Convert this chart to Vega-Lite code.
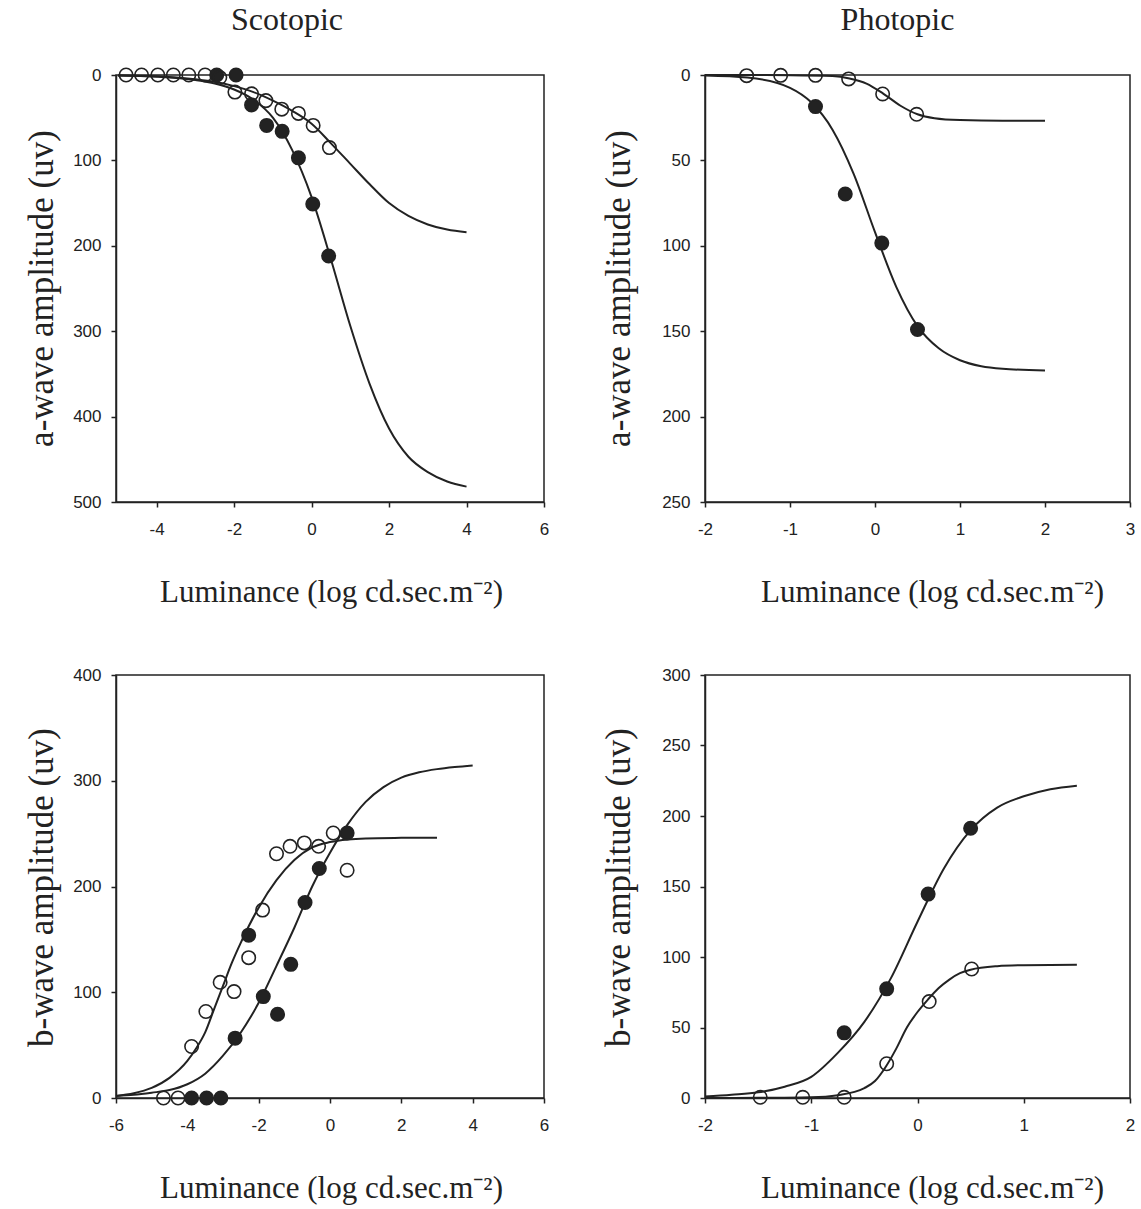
{
  "$schema": "https://vega.github.io/schema/vega-lite/v6.json",
  "padding": {"left": 23, "top": 3, "right": 5, "bottom": 5},
  "background": "white",
  "datasets": {
    "points": [
      {"p": "as", "k": "o", "x": -4.79, "y": 0},
      {"p": "as", "k": "o", "x": -4.39, "y": 0},
      {"p": "as", "k": "o", "x": -3.97, "y": 0},
      {"p": "as", "k": "o", "x": -3.57, "y": 0},
      {"p": "as", "k": "o", "x": -3.17, "y": 0},
      {"p": "as", "k": "o", "x": -2.75, "y": 0},
      {"p": "as", "k": "f", "x": -2.45, "y": 0},
      {"p": "as", "k": "o", "x": -2.37, "y": 3},
      {"p": "as", "k": "f", "x": -1.95, "y": 0},
      {"p": "as", "k": "o", "x": -1.98, "y": 20},
      {"p": "as", "k": "o", "x": -1.55, "y": 22},
      {"p": "as", "k": "o", "x": -1.18, "y": 30},
      {"p": "as", "k": "o", "x": -0.77, "y": 40},
      {"p": "as", "k": "o", "x": -0.34, "y": 45},
      {"p": "as", "k": "o", "x": 0.04, "y": 59},
      {"p": "as", "k": "o", "x": 0.46, "y": 85},
      {"p": "as", "k": "f", "x": -1.55, "y": 35},
      {"p": "as", "k": "f", "x": -1.16, "y": 59},
      {"p": "as", "k": "f", "x": -0.76, "y": 66},
      {"p": "as", "k": "f", "x": -0.34, "y": 97},
      {"p": "as", "k": "f", "x": 0.03, "y": 151},
      {"p": "as", "k": "f", "x": 0.44, "y": 212},

      {"p": "ap", "k": "o", "x": -1.51, "y": 0.4},
      {"p": "ap", "k": "o", "x": -1.11, "y": 0.2},
      {"p": "ap", "k": "o", "x": -0.70, "y": 0.2},
      {"p": "ap", "k": "o", "x": -0.31, "y": 2.3},
      {"p": "ap", "k": "o", "x": 0.09, "y": 11.1},
      {"p": "ap", "k": "o", "x": 0.49, "y": 23},
      {"p": "ap", "k": "f", "x": -0.70, "y": 18.5},
      {"p": "ap", "k": "f", "x": -0.35, "y": 69.7},
      {"p": "ap", "k": "f", "x": 0.08, "y": 98.4},
      {"p": "ap", "k": "f", "x": 0.50, "y": 149},

      {"p": "bs", "k": "o", "x": -4.67, "y": 0},
      {"p": "bs", "k": "o", "x": -4.26, "y": 0},
      {"p": "bs", "k": "o", "x": -3.88, "y": 48.7},
      {"p": "bs", "k": "o", "x": -3.48, "y": 81.8},
      {"p": "bs", "k": "o", "x": -3.08, "y": 109.4},
      {"p": "bs", "k": "o", "x": -2.69, "y": 100.6},
      {"p": "bs", "k": "o", "x": -2.28, "y": 132.7},
      {"p": "bs", "k": "o", "x": -1.89, "y": 177.7},
      {"p": "bs", "k": "o", "x": -1.50, "y": 231},
      {"p": "bs", "k": "o", "x": -1.12, "y": 238},
      {"p": "bs", "k": "o", "x": -0.72, "y": 241.2},
      {"p": "bs", "k": "o", "x": -0.32, "y": 238},
      {"p": "bs", "k": "o", "x": 0.09, "y": 250.6},
      {"p": "bs", "k": "o", "x": 0.48, "y": 215.4},
      {"p": "bs", "k": "f", "x": -3.88, "y": 0},
      {"p": "bs", "k": "f", "x": -3.46, "y": 0},
      {"p": "bs", "k": "f", "x": -3.06, "y": 0},
      {"p": "bs", "k": "f", "x": -2.66, "y": 56.6},
      {"p": "bs", "k": "f", "x": -2.28, "y": 154},
      {"p": "bs", "k": "f", "x": -1.87, "y": 95.9},
      {"p": "bs", "k": "f", "x": -1.47, "y": 79.2},
      {"p": "bs", "k": "f", "x": -1.10, "y": 126.4},
      {"p": "bs", "k": "f", "x": -0.70, "y": 184.9},
      {"p": "bs", "k": "f", "x": -0.30, "y": 217},
      {"p": "bs", "k": "f", "x": 0.48, "y": 250.6},

      {"p": "bp", "k": "o", "x": -1.48, "y": 0.5},
      {"p": "bp", "k": "o", "x": -1.08, "y": 0.5},
      {"p": "bp", "k": "o", "x": -0.69, "y": 0.5},
      {"p": "bp", "k": "o", "x": -0.29, "y": 24.3},
      {"p": "bp", "k": "o", "x": 0.11, "y": 68.4},
      {"p": "bp", "k": "o", "x": 0.51, "y": 91.5},
      {"p": "bp", "k": "f", "x": -0.69, "y": 46.2},
      {"p": "bp", "k": "f", "x": -0.29, "y": 77.4},
      {"p": "bp", "k": "f", "x": 0.10, "y": 144.6},
      {"p": "bp", "k": "f", "x": 0.50, "y": 191.3}
    ],
    "curves": [
      {"p": "as", "k": "o", "x": -5, "y": 0.5},
      {"p": "as", "k": "o", "x": -4, "y": 1.5},
      {"p": "as", "k": "o", "x": -3, "y": 5},
      {"p": "as", "k": "o", "x": -2.5, "y": 8},
      {"p": "as", "k": "o", "x": -2, "y": 13},
      {"p": "as", "k": "o", "x": -1.5, "y": 20},
      {"p": "as", "k": "o", "x": -1, "y": 30},
      {"p": "as", "k": "o", "x": -0.5, "y": 42},
      {"p": "as", "k": "o", "x": 0, "y": 57},
      {"p": "as", "k": "o", "x": 0.5, "y": 80},
      {"p": "as", "k": "o", "x": 1, "y": 104},
      {"p": "as", "k": "o", "x": 1.5, "y": 128},
      {"p": "as", "k": "o", "x": 2, "y": 150},
      {"p": "as", "k": "o", "x": 2.5, "y": 165},
      {"p": "as", "k": "o", "x": 3, "y": 175},
      {"p": "as", "k": "o", "x": 3.5, "y": 181},
      {"p": "as", "k": "o", "x": 4, "y": 184},
      {"p": "as", "k": "f", "x": -5, "y": 0.5},
      {"p": "as", "k": "f", "x": -4, "y": 2},
      {"p": "as", "k": "f", "x": -3, "y": 6},
      {"p": "as", "k": "f", "x": -2.5, "y": 10},
      {"p": "as", "k": "f", "x": -2, "y": 17},
      {"p": "as", "k": "f", "x": -1.5, "y": 29},
      {"p": "as", "k": "f", "x": -1, "y": 50},
      {"p": "as", "k": "f", "x": -0.5, "y": 88},
      {"p": "as", "k": "f", "x": 0, "y": 143},
      {"p": "as", "k": "f", "x": 0.5, "y": 216},
      {"p": "as", "k": "f", "x": 1, "y": 294},
      {"p": "as", "k": "f", "x": 1.5, "y": 362},
      {"p": "as", "k": "f", "x": 2, "y": 414},
      {"p": "as", "k": "f", "x": 2.5, "y": 447},
      {"p": "as", "k": "f", "x": 3, "y": 465},
      {"p": "as", "k": "f", "x": 3.5, "y": 476},
      {"p": "as", "k": "f", "x": 4, "y": 482},

      {"p": "ap", "k": "o", "x": -2, "y": 0},
      {"p": "ap", "k": "o", "x": -1.5, "y": 0},
      {"p": "ap", "k": "o", "x": -1, "y": 0.1},
      {"p": "ap", "k": "o", "x": -0.5, "y": 0.6},
      {"p": "ap", "k": "o", "x": -0.3, "y": 2},
      {"p": "ap", "k": "o", "x": -0.1, "y": 5},
      {"p": "ap", "k": "o", "x": 0.1, "y": 11},
      {"p": "ap", "k": "o", "x": 0.3, "y": 18},
      {"p": "ap", "k": "o", "x": 0.5, "y": 23},
      {"p": "ap", "k": "o", "x": 0.7, "y": 25.3},
      {"p": "ap", "k": "o", "x": 1, "y": 26.4},
      {"p": "ap", "k": "o", "x": 1.5, "y": 26.8},
      {"p": "ap", "k": "o", "x": 2, "y": 26.8},
      {"p": "ap", "k": "f", "x": -2, "y": 0.3},
      {"p": "ap", "k": "f", "x": -1.5, "y": 1.5},
      {"p": "ap", "k": "f", "x": -1, "y": 7.5},
      {"p": "ap", "k": "f", "x": -0.75, "y": 16},
      {"p": "ap", "k": "f", "x": -0.5, "y": 32},
      {"p": "ap", "k": "f", "x": -0.25, "y": 58},
      {"p": "ap", "k": "f", "x": 0, "y": 92},
      {"p": "ap", "k": "f", "x": 0.25, "y": 124},
      {"p": "ap", "k": "f", "x": 0.5, "y": 147},
      {"p": "ap", "k": "f", "x": 0.75, "y": 160},
      {"p": "ap", "k": "f", "x": 1, "y": 167},
      {"p": "ap", "k": "f", "x": 1.25, "y": 170.5},
      {"p": "ap", "k": "f", "x": 1.5, "y": 172},
      {"p": "ap", "k": "f", "x": 2, "y": 173},

      {"p": "bs", "k": "o", "x": -6, "y": 2},
      {"p": "bs", "k": "o", "x": -5.5, "y": 4.5},
      {"p": "bs", "k": "o", "x": -5, "y": 9.5},
      {"p": "bs", "k": "o", "x": -4.5, "y": 19},
      {"p": "bs", "k": "o", "x": -4, "y": 35},
      {"p": "bs", "k": "o", "x": -3.75, "y": 47},
      {"p": "bs", "k": "o", "x": -3.5, "y": 62},
      {"p": "bs", "k": "o", "x": -3.25, "y": 84},
      {"p": "bs", "k": "o", "x": -3, "y": 106},
      {"p": "bs", "k": "o", "x": -2.75, "y": 128},
      {"p": "bs", "k": "o", "x": -2.5, "y": 147},
      {"p": "bs", "k": "o", "x": -2, "y": 180},
      {"p": "bs", "k": "o", "x": -1.5, "y": 206},
      {"p": "bs", "k": "o", "x": -1, "y": 225},
      {"p": "bs", "k": "o", "x": -0.5, "y": 237},
      {"p": "bs", "k": "o", "x": 0, "y": 242},
      {"p": "bs", "k": "o", "x": 0.5, "y": 244.5},
      {"p": "bs", "k": "o", "x": 1, "y": 245.5},
      {"p": "bs", "k": "o", "x": 2, "y": 246},
      {"p": "bs", "k": "o", "x": 3, "y": 246.2},
      {"p": "bs", "k": "f", "x": -6, "y": 2},
      {"p": "bs", "k": "f", "x": -5.5, "y": 3},
      {"p": "bs", "k": "f", "x": -5, "y": 5},
      {"p": "bs", "k": "f", "x": -4.5, "y": 7.5},
      {"p": "bs", "k": "f", "x": -4, "y": 13},
      {"p": "bs", "k": "f", "x": -3.5, "y": 23},
      {"p": "bs", "k": "f", "x": -3, "y": 40},
      {"p": "bs", "k": "f", "x": -2.5, "y": 62},
      {"p": "bs", "k": "f", "x": -2, "y": 90},
      {"p": "bs", "k": "f", "x": -1.5, "y": 125},
      {"p": "bs", "k": "f", "x": -1, "y": 161},
      {"p": "bs", "k": "f", "x": -0.5, "y": 200},
      {"p": "bs", "k": "f", "x": 0, "y": 232},
      {"p": "bs", "k": "f", "x": 0.5, "y": 259},
      {"p": "bs", "k": "f", "x": 1, "y": 280},
      {"p": "bs", "k": "f", "x": 1.5, "y": 294},
      {"p": "bs", "k": "f", "x": 2, "y": 303},
      {"p": "bs", "k": "f", "x": 2.5, "y": 308},
      {"p": "bs", "k": "f", "x": 3, "y": 311},
      {"p": "bs", "k": "f", "x": 3.5, "y": 313},
      {"p": "bs", "k": "f", "x": 4, "y": 314.5},

      {"p": "bp", "k": "o", "x": -2, "y": 0},
      {"p": "bp", "k": "o", "x": -1.5, "y": 0.1},
      {"p": "bp", "k": "o", "x": -1, "y": 0.5},
      {"p": "bp", "k": "o", "x": -0.75, "y": 2},
      {"p": "bp", "k": "o", "x": -0.5, "y": 7},
      {"p": "bp", "k": "o", "x": -0.4, "y": 12},
      {"p": "bp", "k": "o", "x": -0.3, "y": 22},
      {"p": "bp", "k": "o", "x": -0.2, "y": 35},
      {"p": "bp", "k": "o", "x": -0.1, "y": 50},
      {"p": "bp", "k": "o", "x": 0, "y": 61},
      {"p": "bp", "k": "o", "x": 0.1, "y": 70},
      {"p": "bp", "k": "o", "x": 0.2, "y": 78},
      {"p": "bp", "k": "o", "x": 0.3, "y": 84},
      {"p": "bp", "k": "o", "x": 0.4, "y": 88.5},
      {"p": "bp", "k": "o", "x": 0.5, "y": 91},
      {"p": "bp", "k": "o", "x": 0.75, "y": 93.5},
      {"p": "bp", "k": "o", "x": 1, "y": 94.2},
      {"p": "bp", "k": "o", "x": 1.5, "y": 94.5},
      {"p": "bp", "k": "f", "x": -2, "y": 1},
      {"p": "bp", "k": "f", "x": -1.75, "y": 2.3},
      {"p": "bp", "k": "f", "x": -1.5, "y": 4},
      {"p": "bp", "k": "f", "x": -1.25, "y": 8},
      {"p": "bp", "k": "f", "x": -1, "y": 15},
      {"p": "bp", "k": "f", "x": -0.75, "y": 32},
      {"p": "bp", "k": "f", "x": -0.5, "y": 54},
      {"p": "bp", "k": "f", "x": -0.25, "y": 85},
      {"p": "bp", "k": "f", "x": 0, "y": 125},
      {"p": "bp", "k": "f", "x": 0.25, "y": 163},
      {"p": "bp", "k": "f", "x": 0.5, "y": 190},
      {"p": "bp", "k": "f", "x": 0.75, "y": 206},
      {"p": "bp", "k": "f", "x": 1, "y": 214},
      {"p": "bp", "k": "f", "x": 1.25, "y": 219},
      {"p": "bp", "k": "f", "x": 1.5, "y": 221.5}
    ]
  },
  "columns": 2,
  "bounds": "flush",
  "spacing": {"row": 173, "column": 161},
  "concat": [
    {
      "width": 428, "height": 427,
      "title": {"text": "Scotopic", "anchor": "middle", "dx": -43, "offset": 3, "baseline": "alphabetic"},
      "encoding": {
        "x": {"field": "x", "type": "quantitative", "scale": {"domain": [-5.05, 6], "nice": false, "zero": false},
              "axis": {"title": "Luminance (log cd.sec.m⁻²)", "values": [-4, -2, 0, 2, 4, 6], "titleX": 215, "titleY": 90}},
        "y": {"field": "y", "type": "quantitative", "scale": {"domain": [0, 500], "reverse": true, "nice": false},
              "axis": {"title": "a-wave amplitude (uv)", "values": [0, 100, 200, 300, 400, 500], "titleX": -75, "titleY": 213}}
      },
      "layer": [
        {"data": {"name": "curves"}, "transform": [{"filter": "datum.p === 'as'"}],
         "mark": {"type": "line", "color": "#222", "strokeWidth": 2, "interpolate": "monotone"},
         "encoding": {"detail": {"field": "k"}}},
        {"data": {"name": "points"}, "transform": [{"filter": "datum.p === 'as'"}],
         "mark": {"type": "circle", "size": 180, "stroke": "#222", "strokeWidth": 1.6, "fill": "#222", "opacity": 1},
         "encoding": {"fillOpacity": {"field": "k", "type": "nominal", "scale": {"domain": ["f", "o"], "range": [1, 0]}, "legend": null}}}
      ]
    },
    {
      "width": 425, "height": 427,
      "title": {"text": "Photopic", "anchor": "middle", "dx": -20, "offset": 3, "baseline": "alphabetic"},
      "encoding": {
        "x": {"field": "x", "type": "quantitative", "scale": {"domain": [-2, 3], "nice": false, "zero": false},
              "axis": {"title": "Luminance (log cd.sec.m⁻²)", "values": [-2, -1, 0, 1, 2, 3], "titleX": 227, "titleY": 90}},
        "y": {"field": "y", "type": "quantitative", "scale": {"domain": [0, 250], "reverse": true, "nice": false},
              "axis": {"title": "a-wave amplitude (uv)", "values": [0, 50, 100, 150, 200, 250], "titleX": -87, "titleY": 213}}
      },
      "layer": [
        {"data": {"name": "curves"}, "transform": [{"filter": "datum.p === 'ap'"}],
         "mark": {"type": "line", "color": "#222", "strokeWidth": 2, "interpolate": "monotone"},
         "encoding": {"detail": {"field": "k"}}},
        {"data": {"name": "points"}, "transform": [{"filter": "datum.p === 'ap'"}],
         "mark": {"type": "circle", "size": 180, "stroke": "#222", "strokeWidth": 1.6, "fill": "#222", "opacity": 1},
         "encoding": {"fillOpacity": {"field": "k", "type": "nominal", "scale": {"domain": ["f", "o"], "range": [1, 0]}, "legend": null}}}
      ]
    },
    {
      "width": 428, "height": 423,
      "encoding": {
        "x": {"field": "x", "type": "quantitative", "scale": {"domain": [-6, 6], "nice": false, "zero": false},
              "axis": {"title": "Luminance (log cd.sec.m⁻²)", "values": [-6, -4, -2, 0, 2, 4, 6], "titleX": 215, "titleY": 90}},
        "y": {"field": "y", "type": "quantitative", "scale": {"domain": [0, 400], "nice": false},
              "axis": {"title": "b-wave amplitude (uv)", "values": [0, 100, 200, 300, 400], "titleX": -75, "titleY": 212}}
      },
      "layer": [
        {"data": {"name": "curves"}, "transform": [{"filter": "datum.p === 'bs'"}],
         "mark": {"type": "line", "color": "#222", "strokeWidth": 2, "interpolate": "monotone"},
         "encoding": {"detail": {"field": "k"}}},
        {"data": {"name": "points"}, "transform": [{"filter": "datum.p === 'bs'"}],
         "mark": {"type": "circle", "size": 180, "stroke": "#222", "strokeWidth": 1.6, "fill": "#222", "opacity": 1},
         "encoding": {"fillOpacity": {"field": "k", "type": "nominal", "scale": {"domain": ["f", "o"], "range": [1, 0]}, "legend": null}}}
      ]
    },
    {
      "width": 425, "height": 423,
      "encoding": {
        "x": {"field": "x", "type": "quantitative", "scale": {"domain": [-2, 2], "nice": false, "zero": false},
              "axis": {"title": "Luminance (log cd.sec.m⁻²)", "values": [-2, -1, 0, 1, 2], "titleX": 227, "titleY": 90}},
        "y": {"field": "y", "type": "quantitative", "scale": {"domain": [0, 300], "nice": false},
              "axis": {"title": "b-wave amplitude (uv)", "values": [0, 50, 100, 150, 200, 250, 300], "titleX": -87, "titleY": 212}}
      },
      "layer": [
        {"data": {"name": "curves"}, "transform": [{"filter": "datum.p === 'bp'"}],
         "mark": {"type": "line", "color": "#222", "strokeWidth": 2, "interpolate": "monotone"},
         "encoding": {"detail": {"field": "k"}}},
        {"data": {"name": "points"}, "transform": [{"filter": "datum.p === 'bp'"}],
         "mark": {"type": "circle", "size": 180, "stroke": "#222", "strokeWidth": 1.6, "fill": "#222", "opacity": 1},
         "encoding": {"fillOpacity": {"field": "k", "type": "nominal", "scale": {"domain": ["f", "o"], "range": [1, 0]}, "legend": null}}}
      ]
    }
  ],
  "resolve": {"scale": {"x": "independent", "y": "independent"}},
  "config": {
    "view": {"stroke": "#222", "strokeWidth": 1.5},
    "axis": {
      "grid": false, "domainColor": "#222", "domainWidth": 1.5,
      "tickColor": "#222", "tickWidth": 1.5, "tickSize": 5,
      "labelFont": "Liberation Sans", "labelFontSize": 17, "labelColor": "#222",
      "labelFlush": false, "labelOverlap": false,
      "labelExpr": "toString(datum.value)",
      "titleFont": "Liberation Serif", "titleFontSize": 31, "titleFontWeight": "normal", "titleColor": "#222"
    },
    "axisX": {"labelPadding": 14, "titleBaseline": "middle", "titleAlign": "center", "titleAngle": 0},
    "axisY": {"labelPadding": 10, "titleBaseline": "middle", "titleAlign": "center", "titleAngle": -90, "titleFontSize": 35},
    "title": {"font": "Liberation Serif", "fontSize": 32, "fontWeight": "normal", "color": "#222"}
  }
}
